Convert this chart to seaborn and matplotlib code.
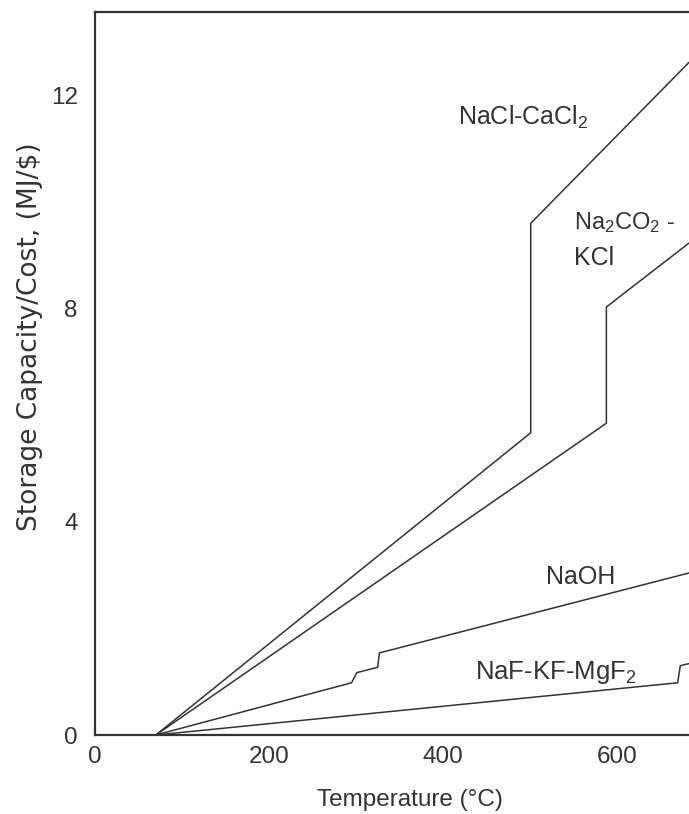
import matplotlib
matplotlib.use("Agg")
import matplotlib.pyplot as plt
import seaborn as sns
import pandas as pd

# ---- data ----
nacl_T = [70, 501, 501, 683]
nacl_v = [0.0, 5.67, 9.60, 12.62]

na2co2_T = [70, 588, 588, 683]
na2co2_v = [0.0, 5.85, 8.03, 9.23]

naoh_T = [70, 295, 301, 325, 327, 683]
naoh_v = [0.0, 0.98, 1.17, 1.27, 1.54, 3.04]

naf_T = [70, 670, 673, 683]
naf_v = [0.0, 0.98, 1.30, 1.34]

x_ticks = [0, 200, 400, 600]
y_ticks = [0, 4, 8, 12]

series = [
    ("NaCl-CaCl2", nacl_T, nacl_v),
    ("Na2CO2-KCl", na2co2_T, na2co2_v),
    ("NaOH", naoh_T, naoh_v),
    ("NaF-KF-MgF2", naf_T, naf_v),
]
rows = []
for name, ts, vs in series:
    for i, (t, v) in enumerate(zip(ts, vs)):
        rows.append({"salt": name, "order": i, "T": t, "v": v})
df = pd.DataFrame(rows)

sns.set_style("white")
plt.rcParams["font.family"] = ["Liberation Sans", "DejaVu Sans"]
plt.rcParams["mathtext.fontset"] = "custom"
plt.rcParams["mathtext.rm"] = "Liberation Sans"
plt.rcParams["mathtext.it"] = "Liberation Sans"
plt.rcParams["mathtext.default"] = "regular"

ink = "#333333"
W, H = 689, 814
fig = plt.figure(figsize=(W / 100, H / 100), dpi=100)
ax = fig.add_axes([95 / W, 1 - 735 / H, 1 - 95 / W, (735 - 12) / H])

sns.lineplot(data=df, x="T", y="v", hue="salt", units="salt", estimator=None,
             sort=False, palette=[ink] * 4, legend=False, linewidth=1.1, ax=ax)

ax.set_xlim(0, 683)
ax.set_ylim(0, (735 - 12) / 53.3)
ax.set_xticks(x_ticks)
ax.set_yticks(y_ticks)

for s in ["left", "bottom", "top"]:
    ax.spines[s].set_visible(True)
    ax.spines[s].set_color(ink)
    ax.spines[s].set_linewidth(1.6)
ax.spines["right"].set_visible(False)

ax.tick_params(axis="x", direction="in", length=10.5, width=1.1, color=ink,
               labelsize=17.5, labelcolor=ink, pad=8)
ax.tick_params(axis="y", direction="in", length=14, width=1.1, color=ink,
               labelsize=17.5, labelcolor=ink, pad=12.5)

ax.set_xlabel("Temperature (°C)", fontsize=17.5, color=ink, va="center")
ax.xaxis.set_label_coords((410 - 95) / (W - 95), (735 - 800) / (735 - 12))
ax.set_ylabel("Storage Capacity/Cost, (MJ/$)", fontsize=19, color=ink,
              family=["DejaVu Sans"], va="center")
ax.yaxis.set_label_coords((30 - 95) / (W - 95), (735 - 337) / (735 - 12))

ax.text(493, 11.58, "NaCl-CaCl$_2$", ha="center", va="center", fontsize=18, color=ink)
ax.text(551, 9.62, "Na$_2$CO$_2$ -", ha="left", va="center", fontsize=17, color=ink)
ax.text(551, 8.95, "KCl", ha="left", va="center", fontsize=18, color=ink)
ax.text(559, 2.96, "NaOH", ha="center", va="center", fontsize=18, color=ink)
ax.text(530, 1.18, "NaF-KF-MgF$_2$", ha="center", va="center", fontsize=18.5, color=ink)

fig.savefig("out.png", dpi=100)
